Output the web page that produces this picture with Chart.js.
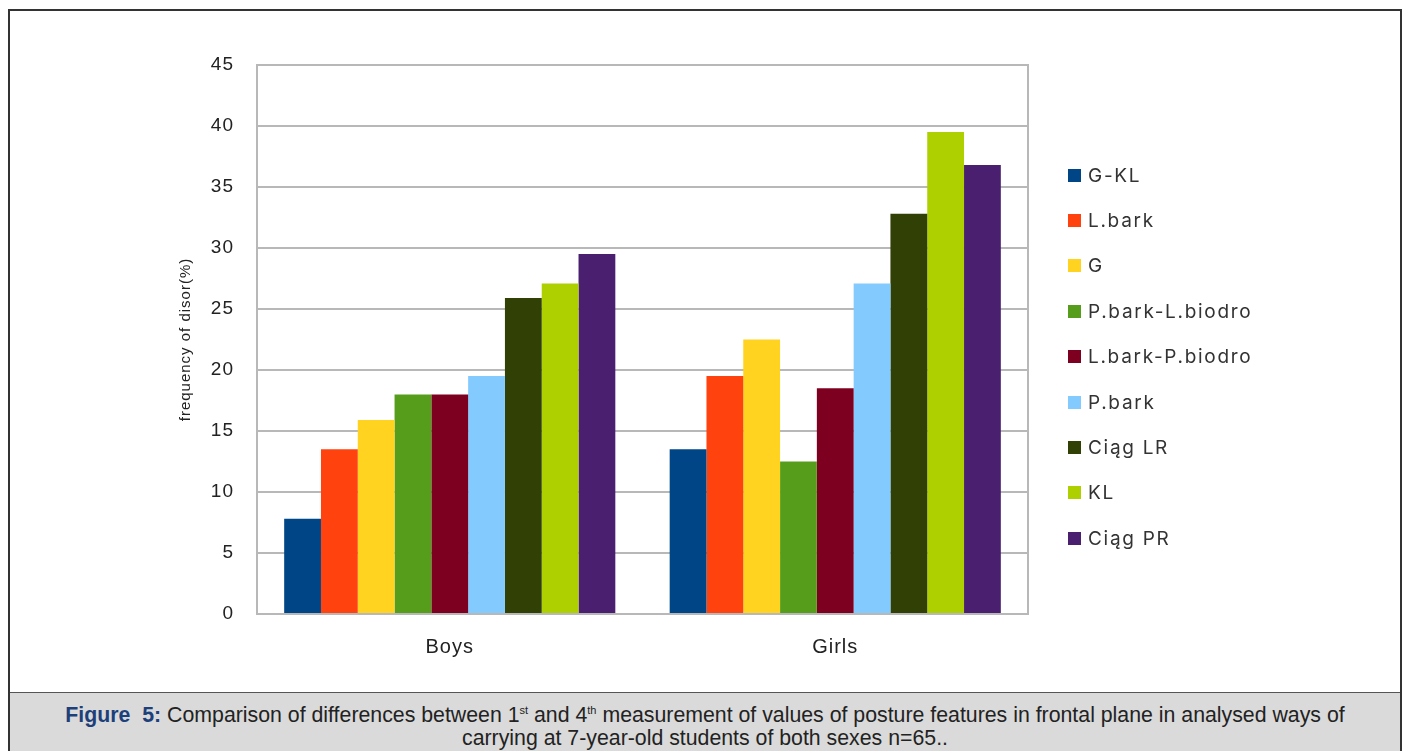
<!DOCTYPE html>
<html>
<head>
<meta charset="utf-8">
<script src="https://cdn.jsdelivr.net/npm/chart.js@4/dist/chart.umd.min.js"></script>
<style>
  html, body { margin: 0; padding: 0; background: #ffffff; }
  body { width: 1408px; height: 751px; position: relative; overflow: hidden; }
  #frame {
    position: absolute; left: 8px; top: 9px; width: 1390px; height: 742px;
    border-left: 2px solid #333; border-top: 2px solid #333; border-right: 2px solid #333;
  }
  #chartBox { position: absolute; left: 0; top: 0; width: 1390px; height: 681px; }
  #caption {
    position: absolute; left: 0; top: 681px; width: 1390px; height: 61px;
    background: #dadada; border-top: 1px solid #555;
    font-family: "Liberation Sans", Arial, sans-serif;
    font-size: 21.3px; line-height: 23px; color: #222; text-align: center;
    padding-top: 11px; box-sizing: border-box; white-space: nowrap;
  }
  #caption b { color: #1d3f7a; }
  #caption sup { font-size: 11px; line-height: 0; }
  #legend { position: absolute; left: 0; top: 0; }
  .lg-item { position: absolute; left: 1058px; height: 20px; display: flex; align-items: center;
    font-family: "Inter", "Liberation Sans", sans-serif; font-size: 19px; color: #333; letter-spacing: 1.7px; white-space: nowrap; }
  .lg-box { width: 13px; height: 13px; margin-right: 7px; flex: none; }
</style>
</head>
<body>
<div id="frame">
  <div id="chartBox"><canvas id="c" width="1390" height="681"></canvas></div>
  <div id="legend"></div>
  <div id="caption"><b>Figure&nbsp; 5:</b> Comparison of differences between 1<sup>st</sup> and 4<sup>th</sup> measurement of values of posture features in frontal plane in analysed ways of<br>carrying at 7-year-old students of both sexes n=65..</div>
</div>
<script>
const categories = ['Boys', 'Girls'];
const seriesNames = ['G-KL', 'L.bark', 'G', 'P.bark-L.biodro', 'L.bark-P.biodro', 'P.bark', 'Ciąg LR', 'KL', 'Ciąg PR'];
const boysValues  = [7.8, 13.5, 15.9, 18.0, 18.0, 19.5, 25.9, 27.1, 29.5];
const girlsValues = [13.5, 19.5, 22.5, 12.5, 18.5, 27.1, 32.8, 39.5, 36.8];
const yTickMin = 0, yTickMax = 45, yTickStep = 5;
const yAxisTitle = 'frequency of disor(%)';

const seriesColors = ['#004586', '#ff420e', '#ffd320', '#579d1c', '#7e0021', '#83caff', '#314004', '#aecf00', '#4b1f6f'];

const datasets = seriesNames.map((name, i) => ({
  label: name,
  data: [boysValues[i], girlsValues[i]],
  backgroundColor: seriesColors[i],
  borderWidth: 0,
  categoryPercentage: 0.859,
  barPercentage: 1.0
}));

const textSpacing = {
  id: 'textSpacing',
  beforeLayout(chart) { chart.ctx.letterSpacing = '1px'; },
  beforeDraw(chart) { chart.ctx.letterSpacing = '1px'; }
};

const frameBorder = {
  id: 'frameBorder',
  afterDatasetsDraw(chart) {
    const { ctx, chartArea: a } = chart;
    ctx.save();
    ctx.strokeStyle = '#b8b8b8';
    ctx.lineWidth = 2;
    ctx.strokeRect(a.left, a.top, a.right - a.left, a.bottom - a.top);
    ctx.restore();
  }
};

const chart = new Chart(document.getElementById('c'), {
  type: 'bar',
  data: { labels: categories, datasets },
  options: {
    responsive: false,
    animation: false,
    devicePixelRatio: 1,
    layout: { padding: { top: 54, right: 372, left: 167, bottom: 28 } },
    plugins: { legend: { display: false }, tooltip: { enabled: false } },
    scales: {
      x: {
        grid: { display: false },
        border: { display: false },
        ticks: { color: '#222', font: { family: 'Liberation Sans', size: 20 }, padding: 13 },
        afterFit(s) { s.height = 50; }
      },
      y: {
        min: yTickMin, max: yTickMax,
        ticks: { stepSize: yTickStep, color: '#222', font: { family: 'Liberation Sans', size: 19 }, padding: 23 },
        grid: { color: '#b8b8b8', lineWidth: 2, drawTicks: false },
        border: { display: true, color: '#b8b8b8', width: 2 },
        title: { display: true, text: yAxisTitle, color: '#222', font: { family: 'Liberation Sans', size: 15 }, padding: 0 },
        afterFit(s) { s.width = 80; }
      }
    }
  },
  plugins: [textSpacing, frameBorder]
});

// HTML legend built from the chart's datasets
const legendEl = document.getElementById('legend');
const firstY = 164, stepY = 45.4;
chart.data.datasets.forEach((ds, i) => {
  const item = document.createElement('div');
  item.className = 'lg-item';
  item.style.top = (firstY - 10 + i * stepY) + 'px';
  const box = document.createElement('span');
  box.className = 'lg-box';
  box.style.background = ds.backgroundColor;
  const txt = document.createElement('span');
  txt.textContent = ds.label;
  item.appendChild(box); item.appendChild(txt);
  legendEl.appendChild(item);
});
</script>
</body>
</html>
